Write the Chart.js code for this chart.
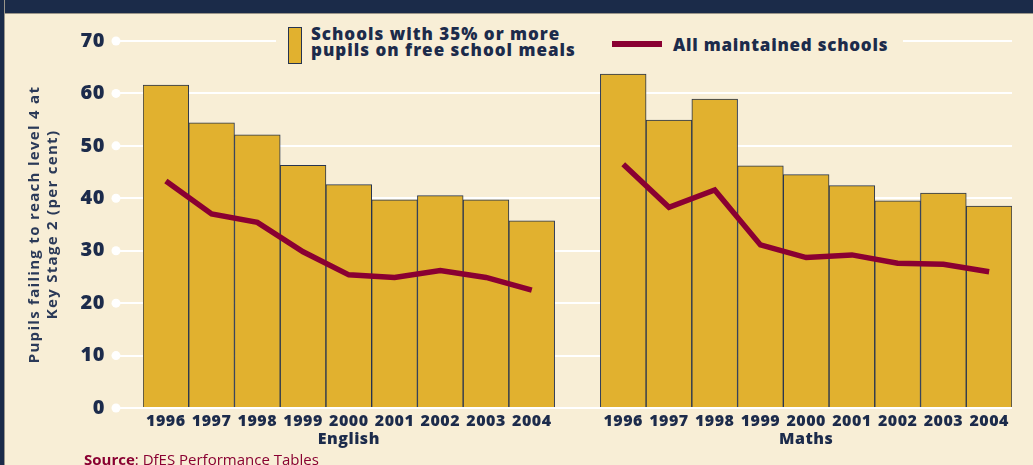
<!DOCTYPE html>
<html>
<head>
<meta charset="utf-8">
<script src="https://cdn.jsdelivr.net/npm/chart.js@4.4.1/dist/chart.umd.min.js"></script>
<style>
  body { margin: 0; background: #f8eed6; font-family: "Open Sans", sans-serif; }
  #wrap { position: relative; width: 1033px; height: 465px; overflow: hidden; background: #f8eed6; }
  #chart { position: absolute; left: 0; top: 0; }
  .band { position: absolute; left: 0; top: 0; width: 1033px; height: 13px; background: #1b2b49; border-bottom: 1px solid #9a958a; }
  .side { position: absolute; left: 0; top: 0; width: 4px; height: 465px; background: #1b2b49; border-right: 1px solid #9a958a; }
  .legend { position: absolute; left: 276px; top: 20px; width: 627px; height: 48px; background: #f8eed6; }
  .swatch { position: absolute; left: 12px; top: 7px; width: 12px; height: 35px; background: #e1b12f; border: 1.5px solid #263450; }
  .ltext { position: absolute; color: #1c2b4b; font-weight: 800; font-size: 17px; line-height: 16px; letter-spacing: 1px; white-space: nowrap; }
  .lline { position: absolute; left: 336px; top: 21px; width: 50px; height: 6px; background: #8a0032; }
  .source { position: absolute; left: 84px; top: 449px; font-size: 15px; color: #8a0032; white-space: nowrap; }
</style>
</head>
<body>
<div id="wrap">
  <canvas id="chart" width="1033" height="465"></canvas>
  <div class="band"></div>
  <div class="side"></div>
  <div class="legend">
    <div class="swatch"></div>
    <div class="ltext" style="left:35px; top:6px;">Schools with 35% or more<br>pupils on free school meals</div>
    <div class="lline"></div>
    <div class="ltext" style="left:397px; top:17px; letter-spacing:0.75px;">All maintained schools</div>
  </div>
  <div class="source"><b>Source</b>: DfES Performance Tables</div>
</div>
<script>
// values
const years = ["1996", "1997", "1998", "1999", "2000", "2001", "2002", "2003", "2004"];
const subjects = ["English", "Maths"];
const englishBars = [61.6, 54.4, 52.1, 46.3, 42.6, 39.7, 40.5, 39.7, 35.7];
const englishLine = [43.3, 37.0, 35.4, 29.8, 25.4, 24.9, 26.2, 24.9, 22.5];
const mathsBars = [63.7, 54.9, 58.9, 46.2, 44.5, 42.4, 39.5, 41.0, 38.5];
const mathsLine = [46.5, 38.3, 41.6, 31.1, 28.7, 29.2, 27.6, 27.4, 26.0];
const yTicks = [0, 10, 20, 30, 40, 50, 60, 70];

const navy = "#1c2b4b";
const maroon = "#8a0032";

// two groups of years with an empty slot between them, subject name under the middle year
const groupLabels = (name) => years.map((y, i) => (i === 4 ? [y, name] : y));
const labels = [...groupLabels(subjects[0]), "", ...groupLabels(subjects[1])];
const barData = [...englishBars, null, ...mathsBars];
const lineData = [...englishLine, null, ...mathsLine];

Chart.defaults.font.family = "'Open Sans', sans-serif";

// white dots at the end of each gridline, plus letter spacing for canvas text
const tickDots = {
  id: "tickDots",
  afterLayout(chart) {
    const y = chart.scales.y;
    if (y._spaced) return;
    const drawTitle = y.drawTitle;
    y.drawTitle = function () {
      this.ctx.letterSpacing = "1.3px";
      drawTitle.call(this);
      this.ctx.letterSpacing = "0.5px";
    };
    y._spaced = true;
  },
  beforeDraw(chart) {
    chart.ctx.letterSpacing = "0.5px";
  },
  beforeDatasetsDraw(chart) {
    const { ctx, chartArea, scales } = chart;
    const x = chartArea.left - scales.y.options.grid.tickLength;
    ctx.save();
    ctx.fillStyle = "#ffffff";
    yTicks.forEach((v) => {
      ctx.beginPath();
      ctx.arc(x, scales.y.getPixelForValue(v), 4.5, 0, Math.PI * 2);
      ctx.fill();
    });
    ctx.restore();
  },
};

const chart = new Chart(document.getElementById("chart"), {
  data: {
    labels: labels,
    datasets: [
      {
        type: "line",
        label: "All maintained schools",
        data: lineData,
        borderColor: maroon,
        borderWidth: 5.5,
        pointRadius: 0,
        spanGaps: false,
        tension: 0,
        order: 0,
      },
      {
        type: "bar",
        label: "Schools with 35% or more pupils on free school meals",
        data: barData,
        backgroundColor: "#e1b12f",
        borderColor: "#263450",
        borderWidth: 1,
        categoryPercentage: 1,
        barPercentage: 1,
        order: 1,
      },
    ],
  },
  options: {
    responsive: false,
    animation: false,
    layout: { padding: { left: 8, right: 21, top: 41, bottom: 0 } },
    plugins: { legend: { display: false }, tooltip: { enabled: false } },
    scales: {
      x: {
        grid: { display: false, drawTicks: false },
        border: { display: false },
        ticks: {
          color: navy,
          font: { size: 16, weight: 800, lineHeight: 1.1 },
          padding: 5,
          maxRotation: 0,
          autoSkip: false,
        },
        afterFit(scale) { scale.height = 57; },
      },
      y: {
        min: 0,
        max: 70,
        grid: { color: "#ffffff", lineWidth: 2, tickLength: 27 },
        border: { display: false },
        ticks: {
          stepSize: 10,
          color: navy,
          font: { size: 20, weight: 800 },
          padding: 11,
        },
        title: {
          display: true,
          text: ["Pupils failing to reach level 4 at", "Key Stage 2 (per cent)"],
          color: "#2b3a58",
          font: { size: 15, weight: "bold", lineHeight: 1.2 },
          padding: { top: 18, bottom: 0 },
        },
        afterFit(scale) { scale.width = 135; },
      },
    },
  },
  plugins: [tickDots],
});
</script>
</body>
</html>
